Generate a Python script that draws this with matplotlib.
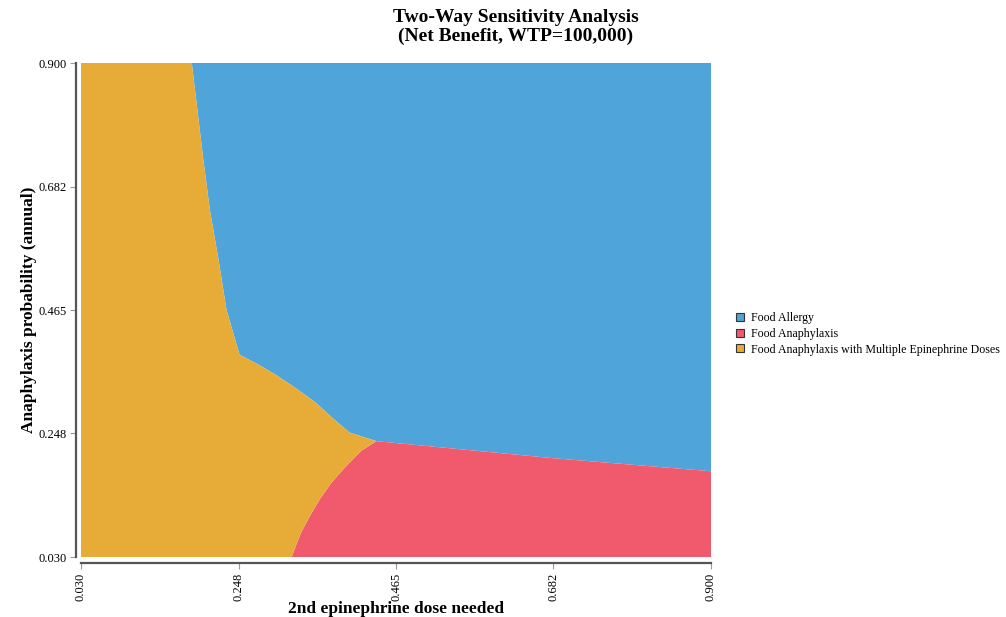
import matplotlib
matplotlib.use("Agg")
import matplotlib.pyplot as plt
from matplotlib.patches import Patch

plt.rcParams["font.family"] = ["Liberation Serif", "DejaVu Serif"]

# Axis ranges and tick values
x_ticks = [0.030, 0.248, 0.465, 0.682, 0.900]
y_ticks = [0.030, 0.248, 0.465, 0.682, 0.900]
x_min, x_max = 0.030, 0.900
y_min, y_max = 0.030, 0.900

strategies = ["Food Allergy", "Food Anaphylaxis",
              "Food Anaphylaxis with Multiple Epinephrine Doses"]
colors = ["#4fa4da", "#f15a6d", "#e7ac38"]

# Boundary between "Multiple Doses" (left) and "Food Allergy" (upper right),
# from the top edge down to the triple point
yb_x = [0.183, 0.199, 0.208, 0.220, 0.231, 0.249, 0.272, 0.299, 0.327,
        0.355, 0.378, 0.401, 0.438]
yb_y = [0.900, 0.729, 0.641, 0.553, 0.465, 0.386, 0.371, 0.351, 0.327,
        0.301, 0.274, 0.249, 0.234]

# Boundary between "Food Allergy" and "Food Anaphylaxis", triple point to right edge
br_x = [0.438, 0.682, 0.900]
br_y = [0.234, 0.204, 0.181]

# Boundary between "Multiple Doses" and "Food Anaphylaxis", triple point to bottom edge
ry_x = [0.438, 0.417, 0.394, 0.376, 0.360, 0.346, 0.334, 0.325, 0.321]
ry_y = [0.234, 0.217, 0.187, 0.161, 0.132, 0.102, 0.073, 0.044, 0.030]

fig = plt.figure(figsize=(10.06, 6.17), dpi=100)
ax = fig.add_axes([81 / 1006, 1 - 557 / 617, 630 / 1006, 494 / 617])

# Food Allergy region (upper right)
blue_x = yb_x + br_x[1:] + [x_max]
blue_y = yb_y + br_y[1:] + [y_max]
ax.fill(blue_x, blue_y, color=colors[0], lw=0)

# Food Anaphylaxis region (lower right)
red_x = br_x + [x_max] + ry_x[::-1]
red_y = br_y + [y_min] + ry_y[::-1]
ax.fill(red_x, red_y, color=colors[1], lw=0)

# Multiple epinephrine doses region (left)
yel_x = [x_min, x_min] + ry_x[::-1] + yb_x[::-1][1:]
yel_y = [y_max, y_min] + ry_y[::-1] + yb_y[::-1][1:]
ax.fill(yel_x, yel_y, color=colors[2], lw=0)

ax.set_xlim(x_min, x_max)
ax.set_ylim(y_min, y_max)
ax.set_xticks(x_ticks)
ax.set_yticks(y_ticks)
ax.set_xticklabels([f"{v:.3f}" for v in x_ticks])
ax.set_yticklabels([f"{v:.3f}" for v in y_ticks])

for side in ["top", "right"]:
    ax.spines[side].set_visible(False)
ax.spines["left"].set_position(("outward", 3.6))
ax.spines["bottom"].set_position(("outward", 4.3))
for side in ["left", "bottom"]:
    ax.spines[side].set_color("#555555")
    ax.spines[side].set_linewidth(1.6)
ax.tick_params(axis="both", direction="out", length=4, width=0.8,
               color="#999999", pad=3, labelcolor="black", labelsize=9)
ax.tick_params(axis="x", labelrotation=90)

ax.set_xlabel("2nd epinephrine dose needed", fontsize=12.5, fontweight="bold")
ax.set_ylabel("Anaphylaxis probability (annual)", fontsize=12.5,
              fontweight="bold")
ax.xaxis.label.set_va("center")
ax.yaxis.label.set_va("center")
ax.xaxis.set_label_coords(0.5, (557 - 609) / 494)
ax.yaxis.set_label_coords((29 - 81) / 630, 0.5)

fig.text(516 / 1006, 1 - 27 / 617,
         "Two-Way Sensitivity Analysis\n(Net Benefit, WTP=100,000)",
         ha="center", va="center", fontsize=14, fontweight="bold",
         linespacing=1.15)

handles = [Patch(facecolor=c, edgecolor="#333333", linewidth=0.8)
           for c in colors]
fig.legend(handles, strategies, loc="upper left",
           bbox_to_anchor=(736 / 1006, 1 - 312 / 617), frameon=False,
           fontsize=8.6, handlelength=0.65, handleheight=0.65,
           handletextpad=0.6, labelspacing=0.32, borderaxespad=0,
           borderpad=0)

fig.savefig("out.png", dpi=100)
